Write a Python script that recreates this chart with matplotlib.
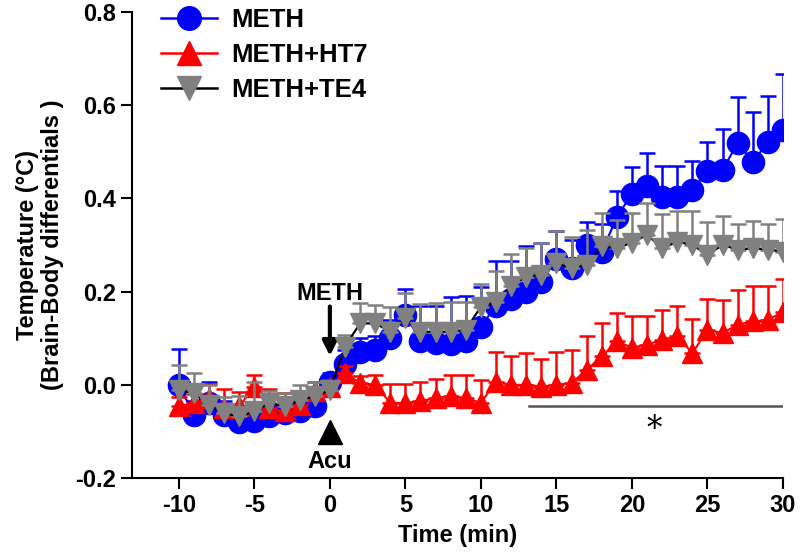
import numpy as np
import matplotlib
matplotlib.use("Agg")
import matplotlib.pyplot as plt
from matplotlib.lines import Line2D

time_min = list(range(-10, 31))

meth = [0.0, -0.064, -0.039, -0.064, -0.08, -0.078, -0.068, -0.06, -0.057, -0.045,
        0.005, 0.045, 0.07, 0.075, 0.10, 0.15, 0.095, 0.09, 0.088, 0.095,
        0.125, 0.17, 0.185, 0.2, 0.22, 0.27, 0.25, 0.30, 0.285, 0.36,
        0.41, 0.427, 0.404, 0.404, 0.418, 0.458, 0.461, 0.519, 0.479, 0.52, 0.547]
meth_err = [0.077, 0.03, 0.046, 0.03, 0.025, 0.025, 0.025, 0.025, 0.025, 0.025,
            0.02, 0.03, 0.03, 0.03, 0.04, 0.055, 0.075, 0.08, 0.10, 0.095,
            0.085, 0.095, 0.08, 0.097, 0.085, 0.06, 0.06, 0.05, 0.06, 0.055,
            0.057, 0.071, 0.066, 0.066, 0.063, 0.063, 0.088, 0.098, 0.106, 0.10, 0.12]

ht7 = [-0.046, -0.039, -0.029, -0.05, -0.046, -0.004, -0.05, -0.057, -0.043, -0.014,
       -0.004, 0.025, 0.004, 0.0, -0.039, -0.039, -0.035, -0.028, -0.025, -0.028,
       -0.039, 0.007, 0.0, 0.0, -0.004, 0.0, 0.004, 0.032, 0.061, 0.093,
       0.08, 0.086, 0.097, 0.104, 0.068, 0.118, 0.111, 0.129, 0.136, 0.139, 0.157]
ht7_err = [0.02, 0.02, 0.03, 0.04, 0.03, 0.025, 0.04, 0.04, 0.03, 0.02,
           0.015, 0.015, 0.015, 0.02, 0.04, 0.04, 0.04, 0.04, 0.045, 0.05,
           0.05, 0.064, 0.061, 0.068, 0.06, 0.071, 0.071, 0.072, 0.071, 0.062,
           0.068, 0.061, 0.063, 0.066, 0.073, 0.066, 0.071, 0.075, 0.077, 0.072, 0.07]

te4 = [-0.011, -0.018, -0.043, -0.061, -0.068, -0.057, -0.039, -0.046, -0.032, -0.025,
       -0.011, 0.082, 0.132, 0.132, 0.114, 0.143, 0.114, 0.114, 0.114, 0.118,
       0.168, 0.178, 0.211, 0.232, 0.236, 0.261, 0.25, 0.258, 0.297, 0.293,
       0.305, 0.322, 0.293, 0.307, 0.30, 0.279, 0.30, 0.29, 0.293, 0.29, 0.286]
te4_err = [0.054, 0.044, 0.043, 0.035, 0.044, 0.062, 0.025, 0.028, 0.032, 0.032,
           0.02, 0.025, 0.043, 0.04, 0.054, 0.054, 0.059, 0.062, 0.064, 0.06,
           0.049, 0.066, 0.069, 0.062, 0.069, 0.068, 0.067, 0.075, 0.071, 0.06,
           0.064, 0.069, 0.073, 0.067, 0.073, 0.071, 0.063, 0.054, 0.059, 0.055, 0.07]

labels = ["METH", "METH+HT7", "METH+TE4"]
x_ticks = [-10, -5, 0, 5, 10, 15, 20, 25, 30]
y_ticks = [-0.2, 0.0, 0.2, 0.4, 0.6, 0.8]

plt.rcParams['font.family'] = ['Liberation Sans', 'DejaVu Sans']
plt.rcParams['font.weight'] = 'bold'
plt.rcParams['axes.unicode_minus'] = False

fig = plt.figure(figsize=(8, 5.6), dpi=100)
ax = fig.add_axes([0.165, 0.1464, 0.81375, 0.8322])

t = np.array(time_min)
series = [
    (meth, meth_err, 'o', 16, '#0000FF', '#0000FF', '#0000FF', 2),
    (ht7, ht7_err, '^', 15, '#FF0000', '#FF0000', '#FF0000', 4),
    (te4, te4_err, 'v', 15, '#808080', '#000000', '#808080', 6),
]
handles = []
for (vals, err, mk, ms, mcol, lcol, ecol, z), lab in zip(series, labels):
    vals = np.array(vals)
    err = np.array(err)
    ax.errorbar(t, vals, yerr=[np.zeros_like(err), err], fmt='none', ecolor=ecol,
                elinewidth=1.8, capsize=6, capthick=1.8, zorder=z)
    ax.plot(t, vals, '-', color=lcol, lw=1.5, zorder=z + 0.5)
    ax.plot(t, vals, linestyle='none', marker=mk, markersize=ms, color=mcol,
            markeredgecolor=mcol, zorder=z + 1)
    handles.append(Line2D([0], [0], color=lcol, lw=1.8, marker=mk, markersize=17,
                          markerfacecolor=mcol, markeredgecolor=mcol))

ax.set_xlim(-13.1, 30)
ax.set_ylim(-0.2, 0.8)
ax.set_xticks(x_ticks)
ax.set_yticks(y_ticks)
ax.set_yticklabels([f"{v:.1f}" for v in y_ticks])
ax.tick_params(axis='both', direction='out', length=8, width=1.5, labelsize=17)
for lbl in ax.get_xticklabels() + ax.get_yticklabels():
    lbl.set_fontweight('bold')
for s in ['top', 'right']:
    ax.spines[s].set_visible(False)
for s in ['left', 'bottom']:
    ax.spines[s].set_linewidth(1.5)

ax.set_xlabel("Time (min)", fontsize=17, fontweight='bold', labelpad=5)
ax.set_ylabel("Temperature (°C)\n(Brain-Body differentials )", fontsize=17,
              fontweight='bold', labelpad=8, linespacing=1.1)

# significance bar
ax.plot([13.2, 30], [-0.045, -0.045], color='#555555', lw=1.8, zorder=1)
ax.text(21.5, -0.095, "*", fontsize=22, family=['DejaVu Serif'], fontweight='normal',
        ha='center', va='center')

# METH injection arrow
ax.text(0, 0.197, "METH", fontsize=17, fontweight='bold', ha='center', va='center')
ax.annotate('', xy=(0, 0.062), xytext=(0, 0.168),
            arrowprops=dict(arrowstyle='-|>', lw=3, color='k', mutation_scale=22,
                            shrinkA=0, shrinkB=0))
# Acu marker
ax.plot([0], [-0.102], marker='^', markersize=17, color='k', linestyle='none',
        clip_on=False, zorder=10)
ax.text(0, -0.165, "Acu", fontsize=17, fontweight='bold', ha='center', va='center')

leg = ax.legend(handles, labels, loc='upper left', bbox_to_anchor=(0.185, 1.008),
                bbox_transform=fig.transFigure, frameon=False, fontsize=18.5,
                handlelength=2.2, handletextpad=0.55, labelspacing=0.42, borderpad=0)
for txt in leg.get_texts():
    txt.set_fontweight('bold')

fig.savefig("out.png", dpi=100)
